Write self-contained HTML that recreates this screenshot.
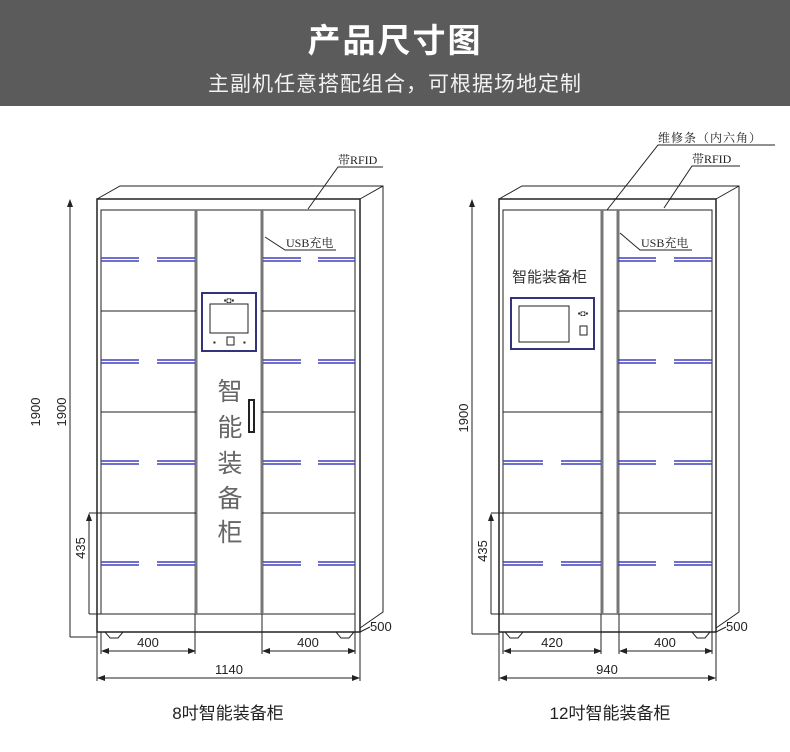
<!DOCTYPE html>
<html><head><meta charset="utf-8"><style>
html,body{margin:0;padding:0;background:#fff;}
.hd{position:absolute;left:0;top:0;width:790px;height:106px;background:#5b5b5b;}
.t1{position:absolute;left:0;width:790px;top:14px;text-align:center;color:#fff;font:bold 33px "Liberation Sans","Noto Sans CJK SC",sans-serif;letter-spacing:2px;}
.t2{position:absolute;left:0;width:790px;top:68px;text-align:center;color:#f2f2f2;font:21px "Liberation Sans","Noto Sans CJK SC",sans-serif;letter-spacing:1px;}
svg{position:absolute;left:0;top:0;}
text{font-family:"Liberation Sans","Noto Sans CJK SC",sans-serif;}
.s{font-family:"Liberation Serif","Noto Serif CJK SC",serif;}
</style></head><body>
<div class="hd"></div>
<div class="t1">产品尺寸图</div>
<div class="t2">主副机任意搭配组合，可根据场地定制</div>
<svg width="790" height="752" viewBox="0 0 790 752">
<defs><marker id="a" markerWidth="8" markerHeight="6" refX="7" refY="3" orient="auto-start-reverse"><path d="M0,0 L8,3 L0,6 z" fill="#222"/></marker></defs>
<g stroke="#222" fill="none" stroke-width="1">
<!-- LEFT CABINET -->
<rect x="97" y="199" width="263" height="433" stroke-width="1.5"/>
<polyline points="97,199 120,186 383,186 383,612 360,628"/>
<line x1="360" y1="199" x2="383" y2="186"/>
<rect x="101" y="210" width="254" height="404"/>
<line x1="196" y1="210" x2="196" y2="614" stroke="#777" stroke-width="3"/>
<line x1="262" y1="210" x2="262" y2="614" stroke="#777" stroke-width="3"/>
<line x1="101" y1="311" x2="196" y2="311"/><line x1="101" y1="412" x2="196" y2="412"/><line x1="101" y1="513" x2="196" y2="513"/>
<line x1="262" y1="311" x2="355" y2="311"/><line x1="262" y1="412" x2="355" y2="412"/><line x1="262" y1="513" x2="355" y2="513"/>
<path d="M105,632 l5,6 h8 l5,-6 M336,632 l5,6 h8 l5,-6"/>
<!-- display -->
<rect x="202" y="293" width="54" height="58" stroke="#33337a" stroke-width="2"/>
<rect x="210" y="304" width="38" height="29"/>
<rect x="227" y="337" width="7" height="8"/>
<rect x="249" y="400" width="5" height="32" stroke-width="2"/>
<!-- dims left -->
<line x1="70" y1="637" x2="70" y2="200" marker-end="url(#a)"/>
<line x1="70" y1="637" x2="97" y2="637"/>
<line x1="89" y1="614" x2="89" y2="514" marker-end="url(#a)"/>
<line x1="89" y1="513" x2="101" y2="513"/><line x1="89" y1="614" x2="101" y2="614"/>
<line x1="102" y1="651" x2="195" y2="651" marker-start="url(#a)" marker-end="url(#a)"/>
<line x1="263" y1="651" x2="355" y2="651" marker-start="url(#a)" marker-end="url(#a)"/>
<line x1="101" y1="632" x2="101" y2="654"/><line x1="195" y1="614" x2="195" y2="654"/>
<line x1="262" y1="614" x2="262" y2="654"/><line x1="355" y1="614" x2="355" y2="654"/>
<line x1="98" y1="678" x2="359" y2="678" marker-start="url(#a)" marker-end="url(#a)"/>
<line x1="97" y1="632" x2="97" y2="681"/><line x1="360" y1="632" x2="360" y2="681"/>
<line x1="360" y1="632" x2="370" y2="627"/>
<!-- labels left -->
<path d="M308,209 L338,167 H383"/>
<path d="M265,237 L285,250 H336"/>
<!-- RIGHT CABINET -->
<rect x="499" y="199" width="217" height="433" stroke-width="1.5"/>
<polyline points="499,199 522,186 739,186 739,612 716,628"/>
<line x1="716" y1="199" x2="739" y2="186"/>
<rect x="503" y="210" width="209" height="404"/>
<line x1="602" y1="210" x2="602" y2="614" stroke="#777" stroke-width="3"/>
<line x1="618" y1="210" x2="618" y2="614" stroke="#777" stroke-width="3"/>
<line x1="503" y1="412" x2="602" y2="412"/><line x1="503" y1="513" x2="602" y2="513"/>
<line x1="618" y1="311" x2="712" y2="311"/><line x1="618" y1="412" x2="712" y2="412"/><line x1="618" y1="513" x2="712" y2="513"/>
<path d="M505,632 l5,6 h8 l5,-6 M692,632 l5,6 h8 l5,-6"/>
<rect x="511" y="298" width="83" height="51" stroke="#33337a" stroke-width="2"/>
<rect x="519" y="306" width="50" height="36"/>
<rect x="580" y="326" width="7" height="9"/>
<line x1="472" y1="634" x2="472" y2="200" marker-end="url(#a)"/>
<line x1="472" y1="634" x2="499" y2="634"/>
<line x1="491" y1="614" x2="491" y2="514" marker-end="url(#a)"/>
<line x1="491" y1="513" x2="503" y2="513"/><line x1="491" y1="614" x2="503" y2="614"/>
<line x1="504" y1="651" x2="601" y2="651" marker-start="url(#a)" marker-end="url(#a)"/>
<line x1="620" y1="651" x2="712" y2="651" marker-start="url(#a)" marker-end="url(#a)"/>
<line x1="503" y1="632" x2="503" y2="654"/><line x1="601" y1="614" x2="601" y2="654"/>
<line x1="619" y1="614" x2="619" y2="654"/><line x1="712" y1="614" x2="712" y2="654"/>
<line x1="500" y1="678" x2="715" y2="678" marker-start="url(#a)" marker-end="url(#a)"/>
<line x1="499" y1="632" x2="499" y2="681"/><line x1="716" y1="632" x2="716" y2="681"/>
<line x1="716" y1="632" x2="726" y2="627"/>
<path d="M607,210 L658,145 H775"/>
<path d="M664,208 L692,166 H740"/>
<path d="M620,233 L640,250 H692"/>
</g>
<!-- blue lines -->
<g stroke="#4040c0" stroke-width="1.6">
<path d="M101,258h38M157,258h38M101,261h38M157,261h38 M263,258h38M318,258h37M263,261h38M318,261h37"/>
<path d="M101,360h38M157,360h38M101,363h38M157,363h38 M263,360h38M318,360h37M263,363h38M318,363h37"/>
<path d="M101,461h38M157,461h38M101,464h38M157,464h38 M263,461h38M318,461h37M263,464h38M318,464h37"/>
<path d="M101,562h38M157,562h38M101,565h38M157,565h38 M263,562h38M318,562h37M263,565h38M318,565h37"/>
<path d="M618,258h38M674,258h38M618,261h38M674,261h38 M618,360h38M674,360h38M618,363h38M674,363h38"/>
<path d="M503,461h40M561,461h40M503,464h40M561,464h40 M618,461h38M674,461h38M618,464h38M674,464h38"/>
<path d="M503,562h40M561,562h40M503,565h40M561,565h40 M618,562h38M674,562h38M618,565h38M674,565h38"/>
</g>
<g fill="#222" font-size="12">
<text x="229" y="303" font-size="8" text-anchor="middle">▪◘▪</text>
<text x="583" y="316" font-size="8" text-anchor="middle">▪◘▪</text>
<text x="213" y="345" font-size="8">▪</text><text x="243" y="345" font-size="8">▪</text>
<text class="s" x="338" y="164">带RFID</text>
<text class="s" x="286" y="247">USB充电</text>
<text class="s" x="692" y="163">带RFID</text>
<text class="s" x="641" y="247">USB充电</text>
<text class="s" x="658" y="142" letter-spacing="1">维修条（内六角）</text>
<text x="148" y="647" font-size="13" text-anchor="middle">400</text>
<text x="308" y="647" font-size="13" text-anchor="middle">400</text>
<text x="229" y="674" font-size="13" text-anchor="middle">1140</text>
<text x="370" y="631" font-size="13">500</text>
<text x="552" y="647" font-size="13" text-anchor="middle">420</text>
<text x="665" y="647" font-size="13" text-anchor="middle">400</text>
<text x="607" y="674" font-size="13" text-anchor="middle">940</text>
<text x="726" y="631" font-size="13">500</text>
<text transform="translate(40,412) rotate(-90)" font-size="13" text-anchor="middle">1900</text>
<text transform="translate(66,412) rotate(-90)" font-size="13" text-anchor="middle">1900</text>
<text transform="translate(85,548) rotate(-90)" font-size="13" text-anchor="middle">435</text>
<text transform="translate(468,418) rotate(-90)" font-size="13" text-anchor="middle">1900</text>
<text transform="translate(487,551) rotate(-90)" font-size="13" text-anchor="middle">435</text>
<text x="512" y="282" font-size="15" fill="#333">智能装备柜</text>
<text x="228" y="719" font-size="17" text-anchor="middle">8吋智能装备柜</text>
<text x="610" y="719" font-size="17" text-anchor="middle">12吋智能装备柜</text>
</g>
<g fill="#666" font-size="25" text-anchor="middle">
<text x="230" y="400">智</text><text x="230" y="436">能</text><text x="230" y="472">装</text><text x="230" y="507">备</text><text x="230" y="541">柜</text>
</g>
</svg>
</body></html>
